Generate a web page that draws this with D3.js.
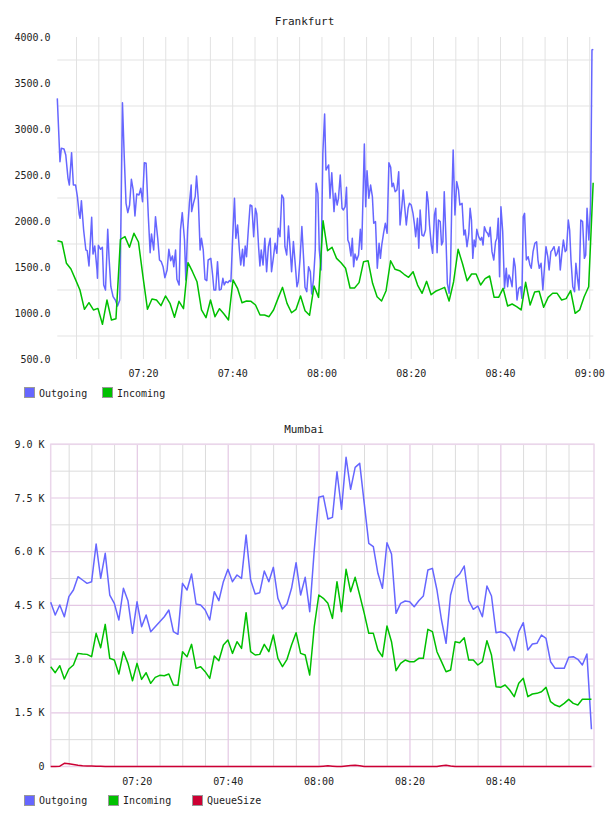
<!DOCTYPE html>
<html><head><meta charset="utf-8">
<script src="https://cdn.jsdelivr.net/npm/d3@7"></script>
<style>
body{margin:0;background:#fff;}
svg text{font-family:"DejaVu Sans Mono",monospace;fill:#222;}
</style></head><body>
<svg id="c" width="608" height="816"></svg>
<script>
// ---------- DATA ----------
// Frankfurt: minutes after 07:00, value
const frankfurtOutgoing = [[0.7,3333],[1.3,2645],[1.6,2790],[2.2,2783],[2.6,2717],[3.1,2464],[3.4,2391],[3.9,2743],[4.3,2391],[4.8,2391],[5.2,2265],[5.6,2076],[5.8,2029],[6.1,2221],[6.6,1902],[7.1,1685],[7.4,1678],[7.8,1511],[8.4,2040],[8.7,1641],[9.1,1728],[9.6,1468],[9.7,1377],[9.9,1736],[10.4,1692],[10.8,1714],[11.1,1305],[11.5,1250],[12.0,1910],[12.3,1594],[12.7,1286],[13.2,1178],[13.7,1141],[14.2,1076],[14.7,1141],[15.0,2156],[15.3,3286],[15.7,2699],[16.1,2192],[16.5,2091],[16.9,2174],[17.3,2453],[17.7,2337],[18.1,2055],[18.5,2294],[19.0,2283],[19.4,2355],[19.8,2210],[20.2,2634],[20.6,2627],[21.1,2047],[21.5,1656],[21.8,1859],[22.3,1685],[22.7,2047],[23.2,1812],[23.6,1576],[24.0,1558],[24.4,1504],[24.8,1384],[25.3,1468],[25.7,1692],[26.1,1569],[26.5,1620],[26.8,1504],[27.2,1685],[27.5,1366],[28.0,1305],[28.3,1902],[28.7,2091],[29.2,1794],[29.5,1359],[29.9,1902],[30.3,2192],[30.7,2391],
[30.8,2102],[31.2,2192],[31.6,2265],[31.9,2489],[32.3,2228],[32.7,1685],[33.0,1812],[33.4,1685],[33.8,1366],[34.2,1352],[34.5,1576],[35.1,1594],[35.5,1413],[35.8,1250],[36.2,1250],[36.6,1558],[37.0,1250],[37.4,1257],[37.8,1377],[38.1,1305],[38.5,1341],[38.9,1330],[39.3,1352],[39.6,1341],[40.0,1830],[40.4,2247],[40.7,1812],[41.1,1957],[41.5,1685],[41.8,1522],[42.2,1692],[42.5,1511],[42.8,1728],[43.1,1612],[43.5,1902],[43.9,2174],[44.3,2163],[44.7,1830],[45.1,2138],[45.4,2076],[45.8,1721],[46.1,1511],[46.4,1685],[46.8,1522],[47.2,1812],[47.6,1449],[48.0,1721],[48.4,1812],[48.7,1449],[49.1,1594],[49.5,1757],[49.9,1649],[50.2,1920],[50.6,1830],[51.0,2283],[51.4,2247],[51.7,1721],[52.1,1631],[52.5,1946],[52.9,1667],[53.2,1449],[53.6,1776],[54.0,1540],[54.4,1286],[54.7,1341],[55.1,1594],[55.5,1939],[55.9,1583],[56.2,1279],[56.6,1232],[57.0,1504],[57.4,1449],[57.7,1207],[58.1,1359],[58.5,1685],[58.7,2410],[59.1,2301],[59.4,1685],[59.8,1468],[60.2,2736],[60.6,3163],[60.9,2554],
[61.5,2609],[61.8,2247],[62.2,2525],[62.7,2102],[63.0,2301],[63.4,2174],[63.7,2247],[64.1,2500],[64.5,2138],[64.8,2120],[65.2,2156],[65.5,2366],[65.8,1794],[66.1,1757],[66.5,1620],[66.8,1812],[67.1,1504],[67.4,1641],[67.8,1576],[68.2,1631],[68.6,1910],[68.9,1692],[69.2,2265],[69.5,2837],[69.8,2156],[70.1,2547],[70.5,2247],[70.9,2391],[71.3,2265],[71.6,1975],[72.0,1993],[72.4,1486],[72.8,1757],[73.1,1594],[73.4,1739],[73.8,1866],[74.2,1975],[74.6,1866],[75.0,2634],[75.4,2583],[75.7,2373],[76.0,2410],[76.4,2319],[76.8,2337],[77.2,2536],[77.5,1957],[77.9,2156],[78.2,2337],[78.5,2174],[78.9,1957],[79.3,2138],[79.6,2192],[80.0,2174],[80.4,2083],[80.7,1975],[81.0,1830],[81.4,2029],[81.7,1703],[82.0,2120],[82.4,1848],[82.8,1837],[83.2,1902],[83.5,2319],[83.8,2210],[84.1,1957],[84.5,1739],[84.8,1649],[85.2,2065],[85.5,2138],[85.8,1656],[86.1,2011],[86.5,1993],[86.8,1739],[87.1,1776],[87.4,2319],[87.8,1794],[88.1,1323],[88.5,1214],[88.8,1449],[89.1,2228],[89.4,2772],[89.8,2065],[90.2,2428],[90.6,2337],[90.9,2174],[91.4,2192],
[91.8,1848],[92.1,1902],[92.5,1721],[92.9,1859],[93.2,2138],[93.5,2011],[93.8,1594],[94.1,1793],[94.4,1721],[94.7,1909],[95.1,1830],[95.5,1793],[95.8,1822],[96.1,1739],[96.4,1938],[96.8,1884],[97.1,1866],[97.4,1830],[97.7,1931],[98.1,1667],[98.5,1576],[98.9,1775],[99.2,1812],[99.5,2029],[99.8,1395],[100.1,2156],[100.5,1884],[100.9,1268],[101.3,1486],[101.6,1286],[101.9,1413],[102.2,1377],[102.6,1286],[103.0,1594],[103.3,1504],[103.7,1141],[104.1,1268],[104.5,1286],[104.8,1159],[105.1,2047],[105.4,2083],[105.8,1576],[106.2,1612],[106.6,1522],[106.9,1486],[107.3,1667],[107.7,1757],[108.1,1775],[108.4,1576],[108.7,1486],[109.1,1540],[109.5,1250],[109.9,1522],[110.2,1721],[110.6,1612],[110.9,1468],[111.3,1667],[111.6,1685],[112.0,1721],[112.4,1620],[112.7,1649],[113.1,1721],[113.4,1468],[113.8,1667],[114.1,1793],[114.5,1667],[114.8,1685],[115.2,2011],[115.5,1902],[115.8,1576],[116.2,1286],[116.6,1232],[116.9,1540],[117.3,1359],[117.6,1250],[118.0,2011],[118.4,1993],[118.8,1594],[119.1,1631],[119.4,2138],[119.8,1793],[120.2,2156],[120.5,3859],[120.8,3866]];

// Frankfurt incoming: one sample per interval, first at 07:00:44, last at 09:00:46
const frankfurtIncomingStart = 0.73, frankfurtIncomingEnd = 120.77;
const frankfurtIncoming = [1786,1772,1540,1478,1366,1250,1040,1112,1033,1050,877,1141,924,938,1801,1830,1714,1866,1772,1395,1040,1152,1141,1080,1185,1105,953,1127,1047,1547,1449,
1340,1033,949,1141,960,1047,989,924,1359,1268,1112,1130,1127,1087,978,978,960,1033,1159,1279,1105,1003,1040,1185,1025,975,1293,1170,2003,1677,
1714,1594,1547,1486,1272,1272,1330,1558,1568,1323,1177,1130,1242,1568,1475,1460,1421,1388,1449,1304,1214,1344,1199,1236,1257,1279,1130,1340,1692,1532,
1351,1424,1424,1304,1373,1402,1170,1170,1268,1076,1098,1069,1033,1333,1087,1228,1236,1062,1170,1214,1214,1141,1156,1242,997,1033,1177,1286,2416];

const frankfurtYTicks = [500,1000,1500,2000,2500,3000,3500,4000];
const frankfurtYGrid = [750,1250,1750,2250,2750,3250,3750];

// Mumbai: one sample per minute, first at 07:00:56
const mumbaiStart = 0.94;
const mumbaiOutgoing = [4586,4231,4511,4184,4743,4930,5302,5209,5116,5162,6215,5256,5955,4790,4558,4092,4977,4631,3720,4600,
3906,4231,3766,3906,4045,4184,4371,3766,3692,5116,4930,5377,4539,4511,4371,4092,4883,4631,5162,5507,
5162,5349,5256,6466,5209,4818,4855,5460,5162,5563,4697,4399,4539,4977,5693,4790,5284,4325,6047,7519,
7555,6913,6960,8234,7184,8636,7742,8357,8468,7351,6234,6139,5396,4977,6251,5935,4278,4558,4622,4603,
4463,4631,4762,5488,5535,4930,4092,3441,4790,5256,5377,5600,4631,4390,4483,4184,5041,4762,3738,3766,
3720,3581,3234,3766,4017,3254,3422,3441,3673,3581,2927,2741,2741,2741,3050,3067,2994,2835,3142,1039];
const mumbaiIncoming = [2788,2620,2816,2444,2723,2835,3160,3142,3132,3067,3719,3319,3970,3021,2974,2583,3207,2881,2397,2881,
2434,2620,2323,2490,2546,2537,2583,2276,2267,3207,3067,3412,2742,2788,2648,2462,3086,2956,3393,3533,
3160,3486,3300,4296,3207,3114,3132,3412,3207,3672,3021,2788,2993,3393,3738,3160,3114,2555,3905,4790,
4697,4557,4138,5162,4324,5507,4883,5284,4790,4278,3719,3719,3254,3067,3924,3486,2676,2881,2974,2928,
2928,3021,3021,3831,3766,3207,2928,2648,2695,3486,3458,3598,2974,2974,2835,2928,3514,3114,2229,2211,
2276,2136,1950,2323,2462,1950,2025,2043,2090,2211,1810,1717,1671,1764,1876,1764,1717,1876,1876,1876];
const mumbaiQueueSize = [0,0,10,90,75,55,35,20,15,15,10,5,0,0,0,0,0,0,0,0,
0,0,0,0,0,0,0,0,0,0,0,0,0,0,0,0,0,0,0,0,
0,0,0,0,0,0,0,0,0,0,0,0,0,0,0,0,0,0,0,0,
10,20,10,0,0,15,30,35,20,0,0,0,0,0,0,0,0,0,0,0,
0,0,0,0,0,0,20,35,15,0,0,0,0,0,0,0,0,0,0,0,
0,0,0,0,0,0,0,0,0,0,0,0,0,0,0,0,0,0,0,0];
const mumbaiYTicks = [0,1500,3000,4500,6000,7500,9000];
const mumbaiYTickLabels = ["0","1.5 K","3.0 K","4.5 K","6.0 K","7.5 K","9.0 K"];
const mumbaiYMinor = [750,2250,3750,5250,6750,8250];

const seriesNames = ["Outgoing","Incoming","QueueSize"];
const seriesColors = ["#6666ff","#00c000","#cc0033"];

// ---------- HELPERS ----------
const svg = d3.select("#c");
const hhmm = m => { const h = 7 + Math.floor(m/60), mm = Math.round(m%60); return String(h).padStart(2,"0")+":"+String(mm).padStart(2,"0"); };
const fiveMin = d3.range(0, 125, 5);

// ---------- FRANKFURT ----------
(function(){
  const x = d3.scaleLinear().domain(d3.extent(frankfurtOutgoing, d=>d[0])).range([57.3, 593.3]);
  const y = d3.scaleLinear().domain([500, 4000]).range([359, 37]);
  const g = svg.append("g");
  g.append("text").attr("x", 304.5).attr("y", 21).attr("text-anchor","middle").attr("dominant-baseline","central")
    .style("font-size","11px").text("Frankfurt");
  // grid
  g.selectAll(".hg").data(frankfurtYGrid).enter().append("line")
    .attr("x1", x.range()[0]).attr("x2", x.range()[1]).attr("y1", d=>y(d)).attr("y2", d=>y(d))
    .attr("stroke","#ececec").attr("stroke-width",1.6);
  const vt = fiveMin.filter(m => m >= x.domain()[0] && m <= x.domain()[1]);
  g.selectAll(".vg").data(vt).enter().append("line")
    .attr("x1", d=>x(d)).attr("x2", d=>x(d)).attr("y1", y.range()[1]).attr("y2", y.range()[0])
    .attr("stroke","#e2e2e2").attr("stroke-width",1);
  // y labels
  g.selectAll(".yl").data(frankfurtYTicks).enter().append("text")
    .attr("x", 50.5).attr("y", d=>y(d)).attr("text-anchor","end").attr("dominant-baseline","central")
    .style("font-size","10px").text(d=>d3.format(".1f")(d));
  // x labels
  g.selectAll(".xl").data(vt.filter(m=>m%20===0)).enter().append("text")
    .attr("x", d=>x(d)).attr("y", 373.5).attr("text-anchor","middle").attr("dominant-baseline","central")
    .style("font-size","10px").text(hhmm);
  // lines
  const line = d3.line().x(d=>x(d[0])).y(d=>y(d[1]));
  const step = (frankfurtIncomingEnd - frankfurtIncomingStart)/(frankfurtIncoming.length-1);
  const inc = frankfurtIncoming.map((v,i)=>[frankfurtIncomingStart + i*step, v]);
  g.append("path").datum(frankfurtOutgoing).attr("d", line).attr("fill","none")
    .attr("stroke", seriesColors[0]).attr("stroke-width",1.5).attr("stroke-linejoin","round");
  g.append("path").datum(inc).attr("d", line).attr("fill","none")
    .attr("stroke", seriesColors[1]).attr("stroke-width",1.5).attr("stroke-linejoin","round");
  // legend
  const lx = [24.5, 102.5];
  seriesNames.slice(0,2).forEach((n,i)=>{
    g.append("rect").attr("x", lx[i]).attr("y", 387.5).attr("width",10).attr("height",10)
      .attr("fill", seriesColors[i]).attr("stroke","#999").attr("stroke-width",1);
    g.append("text").attr("x", lx[i]+14.5).attr("y", 393).attr("dominant-baseline","central")
      .style("font-size","10px").text(n);
  });
})();

// ---------- MUMBAI ----------
(function(){
  const x = d3.scaleLinear().domain([mumbaiStart, 120.5]).range([50.7, 594]);
  const y = d3.scaleLinear().domain([0, 9000]).range([766.5, 444.3]);
  const g = svg.append("g");
  g.append("text").attr("x", 304).attr("y", 429.5).attr("text-anchor","middle").attr("dominant-baseline","central")
    .style("font-size","11px").text("Mumbai");
  const vt = fiveMin.filter(m => m > x.domain()[0] && m < 120);
  // minor grid
  g.selectAll(".hm").data(mumbaiYMinor).enter().append("line")
    .attr("x1", x.range()[0]).attr("x2", x.range()[1]).attr("y1", d=>y(d)).attr("y2", d=>y(d))
    .attr("stroke","#dcdcdc").attr("stroke-width",1);
  g.selectAll(".vm").data(vt.filter(m=>m%20!==0)).enter().append("line")
    .attr("x1", d=>x(d)).attr("x2", d=>x(d)).attr("y1", y.range()[1]).attr("y2", y.range()[0])
    .attr("stroke","#dcdcdc").attr("stroke-width",1);
  // major grid
  g.selectAll(".hM").data(mumbaiYTicks).enter().append("line")
    .attr("x1", x.range()[0]).attr("x2", x.range()[1]).attr("y1", d=>y(d)).attr("y2", d=>y(d))
    .attr("stroke","#e4c8e4").attr("stroke-width",1.2);
  g.selectAll(".vM").data(vt.filter(m=>m%20===0)).enter().append("line")
    .attr("x1", d=>x(d)).attr("x2", d=>x(d)).attr("y1", y.range()[1]).attr("y2", y.range()[0])
    .attr("stroke","#e4c8e4").attr("stroke-width",1.2);
  g.append("rect").attr("x", x.range()[0]).attr("y", y.range()[1])
    .attr("width", x.range()[1]-x.range()[0]).attr("height", y.range()[0]-y.range()[1])
    .attr("fill","none").attr("stroke","#ead6ea").attr("stroke-width",1.5);
  // labels
  g.selectAll(".yl").data(mumbaiYTicks).enter().append("text")
    .attr("x", 44.5).attr("y", d=>y(d)).attr("text-anchor","end").attr("dominant-baseline","central")
    .style("font-size","10px").text((d,i)=>mumbaiYTickLabels[i]);
  g.selectAll(".xl").data(vt.filter(m=>m%20===0)).enter().append("text")
    .attr("x", d=>x(d)).attr("y", 781.7).attr("text-anchor","middle").attr("dominant-baseline","central")
    .style("font-size","10px").text(hhmm);
  // lines
  const line = d3.line().x((d,i)=>x(mumbaiStart + i)).y(d=>y(d));
  [mumbaiOutgoing, mumbaiIncoming, mumbaiQueueSize].forEach((s,k)=>{
    g.append("path").datum(s).attr("d", line).attr("fill","none")
      .attr("stroke", seriesColors[k]).attr("stroke-width",1.5).attr("stroke-linejoin","round");
  });
  // legend
  const lx = [24.5, 108.5, 192.5];
  seriesNames.forEach((n,i)=>{
    g.append("rect").attr("x", lx[i]).attr("y", 795.5).attr("width",10).attr("height",10)
      .attr("fill", seriesColors[i]).attr("stroke","#999").attr("stroke-width",1);
    g.append("text").attr("x", lx[i]+14.5).attr("y", 800.5).attr("dominant-baseline","central")
      .style("font-size","10px").text(n);
  });
})();
</script></body></html>
